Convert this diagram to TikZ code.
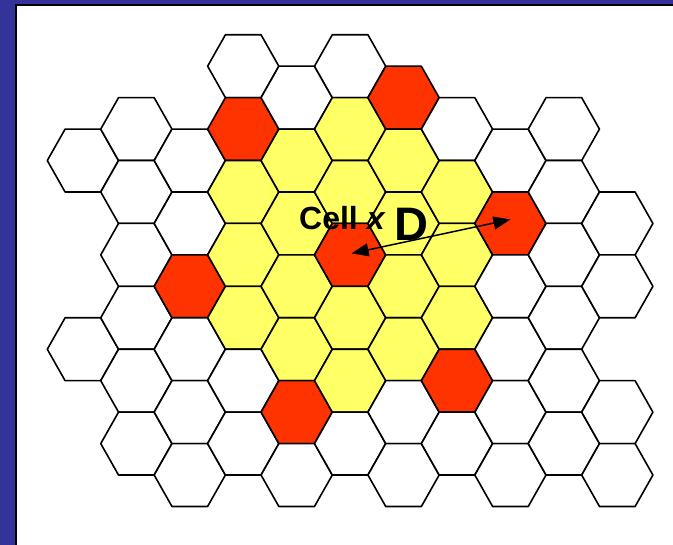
\documentclass[tikz,border=0pt]{standalone}
\usepackage{fontspec}
\setmainfont{Liberation Sans}
\usetikzlibrary{arrows.meta,calc}
\definecolor{hexW}{HTML}{FFFFFF}
\definecolor{hexY}{HTML}{FFFF66}
\definecolor{hexR}{HTML}{FF3300}
\definecolor{slide}{HTML}{333399}
\begin{document}
\begin{tikzpicture}[x=1pt,y=-1pt,
  hexcell/.style={draw=black, line width=1.6pt, line join=round},
  lbltext/.style={anchor=base west, inner sep=0pt, text=black},
  distarrow/.style={line width=1.5pt, {Triangle[length=17pt,width=13pt]}-{Triangle[length=17pt,width=13pt]}}]
\useasboundingbox (0,0) rectangle (673,545);
\fill[slide] (0,0) rectangle (673,545);
\fill[white] (15.7,4.7) rectangle (680,552);
\draw[black, line width=2pt] (15.7,552) -- (15.7,4.7) -- (680,4.7);
\foreach \c/\j/\col in {
  0/3/W, 0/9/W,
  1/2/W, 1/4/W, 1/6/W, 1/8/W, 1/10/W, 1/12/W,
  2/3/W, 2/5/W, 2/7/R, 2/9/W, 2/11/W, 2/13/W,
  3/0/W, 3/2/R, 3/4/Y, 3/6/Y, 3/8/Y, 3/10/W, 3/12/W,
  4/1/W, 4/3/Y, 4/5/Y, 4/7/Y, 4/9/Y, 4/11/R, 4/13/W,
  5/0/W, 5/2/Y, 5/4/Y, 5/6/R, 5/8/Y, 5/10/Y, 5/12/W,
  6/1/R, 6/3/Y, 6/5/Y, 6/7/Y, 6/9/Y, 6/11/W, 6/13/W,
  7/2/W, 7/4/Y, 7/6/Y, 7/8/Y, 7/10/R, 7/12/W,
  8/3/W, 8/5/R, 8/7/W, 8/9/W, 8/11/W, 8/13/W,
  9/2/W, 9/4/W, 9/6/W, 9/8/W, 9/10/W, 9/12/W,
  10/5/W, 10/7/W, 10/11/W, 10/13/W} {
  \pgfmathsetmacro\cx{82.9+53.44*\c}
  \pgfmathsetmacro\cy{66.2+31.45*\j}
  \coordinate (h\c-\j) at (\cx,\cy);
  \filldraw[hexcell, fill=hex\col] (\cx-35.6,\cy) -- (\cx-17.8,\cy-31.45) -- (\cx+17.8,\cy-31.45) -- (\cx+35.6,\cy) -- (\cx+17.8,\cy+31.45) -- (\cx-17.8,\cy+31.45) -- cycle;
}
\node[lbltext, font=\bfseries\fontsize{32}{32}\selectfont] (celllbl) at (299,230) {Cell \textit{x}};
\node[lbltext, font=\bfseries\fontsize{47}{47}\selectfont] (dlbl) at (394,240.5) {D};
\draw[distarrow] ($(h5-6)+(1.5,-1.5)$) -- ($(h8-5)+(0,-4)$);
\end{tikzpicture}
\end{document}
